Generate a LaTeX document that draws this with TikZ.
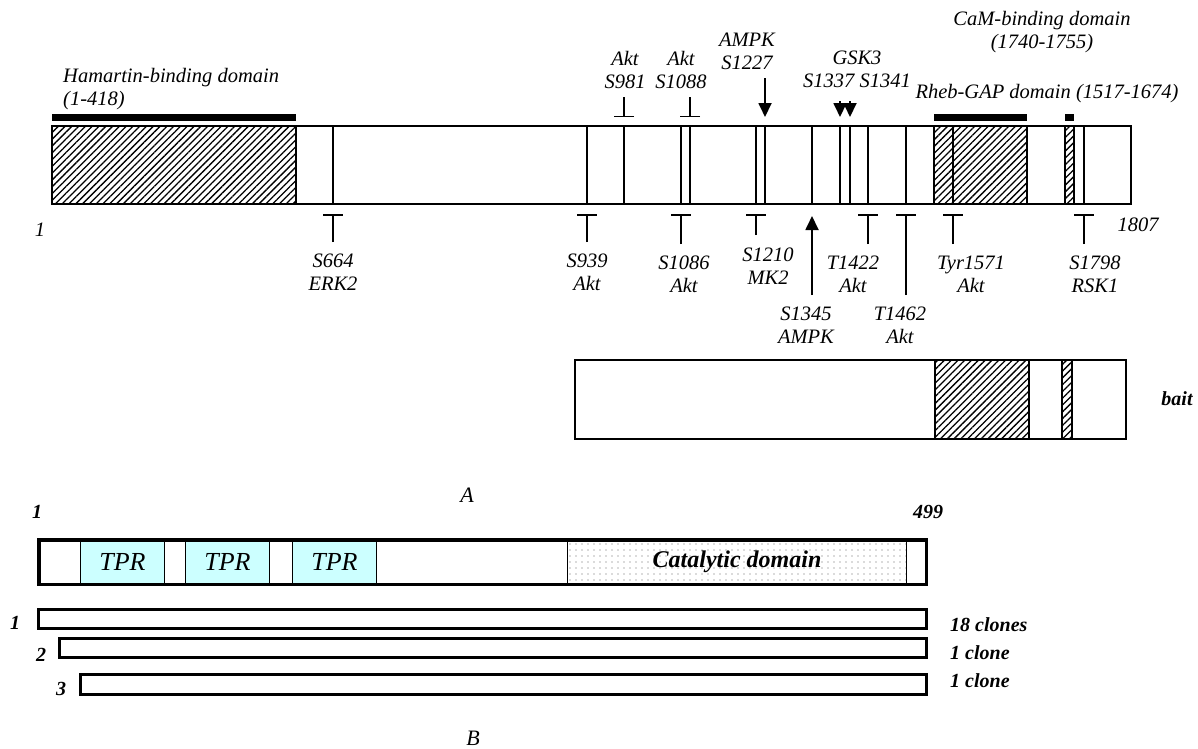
\documentclass[tikz,border=0pt]{standalone}
\usepackage{fontspec}
\setmainfont{Liberation Serif}
\usetikzlibrary{arrows.meta,patterns.meta}
\definecolor{tprcyan}{HTML}{CCFFFF}
\newcommand{\itf}[1]{\fontsize{#1}{23}\selectfont\itshape}
\newcommand{\bfit}[1]{\fontsize{#1}{23}\selectfont\bfseries\itshape}
\tikzset{
  lbl/.style={font={\itf{20.5}}, align=center, inner sep=0pt},
  num/.style={font={\bfit{20}}, inner sep=0pt},
  prot/.style={draw, line width=1.5pt, fill=white},
  hatched/.style={draw, line width=1.5pt, pattern={Lines[angle=45,distance=4.8pt,line width=1.3pt]}},
  catdom/.style={draw, line width=1pt, pattern={Dots[distance=6pt,radius=0.7pt]}, pattern color=gray!80!black, font={\bfit{24}}, inner sep=0pt},
  tpr/.style={draw, line width=1pt, fill=tprcyan, minimum width=84pt, minimum height=43pt, font={\itf{26}}, inner sep=0pt},
  site/.style={line width=1.5pt},
  tbar/.style={line width=1.5pt, -{Bar[width=20pt]}},
  arr/.style={line width=1.8pt, -{Triangle[length=14pt,width=13pt]}},
  clone/.style={draw, line width=3pt},
}
\begin{document}
\begin{tikzpicture}[x=1pt,y=-1pt]
\useasboundingbox (0,0) rectangle (1198,748);
% A: full-length protein
\draw[prot] (52,126) rectangle (1131,204);
\draw[hatched] (52,126) rectangle (296,204);
\draw[hatched] (934,126) rectangle (1027,204);
\draw[hatched] (1065,126) rectangle (1074,204);
\foreach \x in {333,587,624,681,690,756,765,812,840,850,868,906,953,1084}
  \draw[site] (\x,126) -- (\x,204);
\fill (52,114) rectangle (296,121);
\fill (934,114) rectangle (1027,121);
\fill (1065,114) rectangle (1074,121);
\foreach \x/\y in {333/242,587/242,681/244,756/235,868/244,906/295,953/244,1084/244}
  \draw[tbar] (\x,\y) -- (\x,214);
\foreach \x in {624,690}
  \draw[tbar] (\x,97) -- (\x,117);
\draw[arr] (765,78) -- (765,117);
\foreach \x in {840,850}
  \draw[arr] (\x,101) -- (\x,117);
\draw[arr] (812,295) -- (812,216);
\node[lbl, anchor=west, align=left] (ham) at (63,89.5) {Hamartin-binding domain\\(1-418)};
\node[lbl] (cam) at (1042,32) {CaM-binding domain\\(1740-1755)};
\node[lbl] (rheb) at (1047,94) {Rheb-GAP domain (1517-1674)};
\node[lbl] (s981) at (625,69.5) {Akt\\S981};
\node[lbl] (s1088) at (681,69.5) {Akt\\S1088};
\node[lbl] (s1227) at (747,51.5) {AMPK\\S1227};
\node[lbl] (gsk) at (857,69.5) {GSK3\\S1337 S1341};
\foreach \n/\x/\y/\t in {s664/333/272.5/{S664\\ERK2}, s939/587/272.5/{S939\\Akt},
    s1086/684/274.5/{S1086\\Akt}, s1210/768/266/{S1210\\MK2}, t1422/853/274.5/{T1422\\Akt},
    s1345/806/325/{S1345\\AMPK}, t1462/900/325/{T1462\\Akt}, y1571/971/274.5/{Tyr1571\\Akt},
    s1798/1095/274.5/{S1798\\RSK1}}
  \node[lbl] (\n) at (\x,\y) {\t};
\node[lbl] (first) at (40,230) {1};
\node[lbl] (last) at (1138,225) {1807};
% bait
\draw[prot] (575,360) rectangle (1126,439);
\draw[hatched] (935,360) rectangle (1029,439);
\draw[hatched] (1062,360) rectangle (1072,439);
\node[num, font={\bfit{20}}] (bait) at (1177,399) {bait};
\node[lbl, font={\itf{22}}] (pa) at (467,495) {A};
% B: partner and clones
\fill[white] (37,538) rectangle (928,586);
\foreach \i/\x in {1/80,2/185,3/292}
  \node[tpr, anchor=north west] (tpr\i) at (\x,540) {TPR};
\node[catdom, anchor=north west, minimum width=339pt, minimum height=43pt] (cat) at (567,540) {Catalytic domain};
\draw[line width=3.5pt] (38.75,539.75) rectangle (926.25,584.25);
\foreach \x/\t/\b in {37/608/630, 58/637/659, 79/673/696}
  \draw[clone] (\x+1.5,\t+1.5) rectangle (926.5,\b-1.5);
\node[num] (bstart) at (37,512) {1};
\node[num] (bend) at (928,512) {499};
\node[num] (c1) at (15,623) {1};
\node[num] (c2) at (41,655) {2};
\node[num] (c3) at (61,689) {3};
\node[num, anchor=west] (n1) at (950,625) {18 clones};
\node[num, anchor=west] (n2) at (950,653) {1 clone};
\node[num, anchor=west] (n3) at (950,681) {1 clone};
\node[lbl, font={\itf{22}}] (pb) at (473,738) {B};
\end{tikzpicture}
\end{document}
